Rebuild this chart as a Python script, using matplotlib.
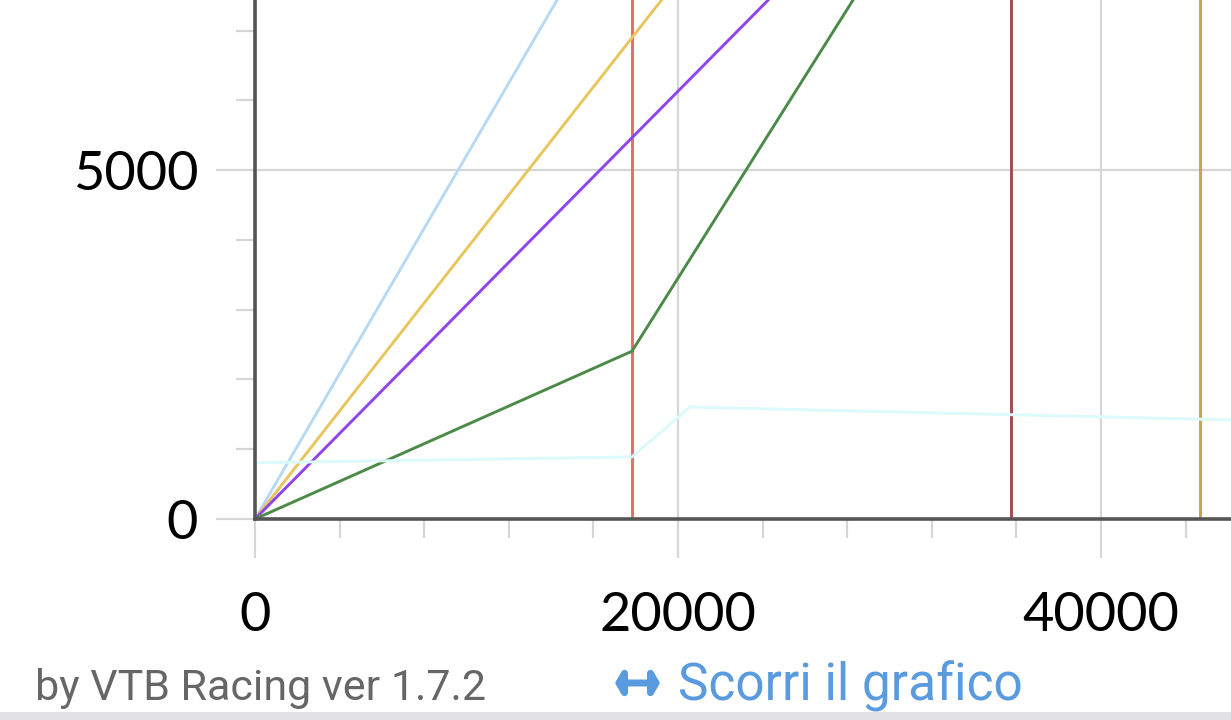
import matplotlib.pyplot as plt
from matplotlib.ticker import MultipleLocator
from matplotlib.patches import Rectangle, FancyArrowPatch

plt.rcParams["font.family"] = ["Lato", "DejaVu Sans"]

# visible window of the chart
X_MAX = 46150
Y_MAX = 7440

# series (x, y)
blue_x = [0, 14400]
blue_y = [0, 7500]
yellow_x = [0, 19300]
yellow_y = [0, 7470]
purple_x = [0, 24300]
purple_y = [0, 7450]
green_x = [0, 17825, 28300]
green_y = [0, 2405, 7450]
cyan_x = [0, 17825, 20570, 46150]
cyan_y = [805, 890, 1605, 1420]

# vertical markers
marker_x = [17825, 35745, 44680]
marker_colors = ["#e86b6b", "#a34a4f", "#c9a448"]

W, H, DPI = 1231, 720, 100
fig = plt.figure(figsize=(W / DPI, H / DPI), dpi=DPI)
fig.patch.set_facecolor("white")

left_px, bottom_px = 255, 519
ax = fig.add_axes([left_px / W, (H - bottom_px) / H, 1 - left_px / W, bottom_px / H])
ax.set_xlim(0, X_MAX)
ax.set_ylim(0, Y_MAX)

grid_col = "#d6d6d6"
ax.xaxis.set_major_locator(MultipleLocator(20000))
ax.xaxis.set_minor_locator(MultipleLocator(4000))
ax.yaxis.set_major_locator(MultipleLocator(5000))
ax.yaxis.set_minor_locator(MultipleLocator(1000))
ax.grid(True, which="major", color=grid_col, linewidth=1.6, zorder=0)

ax.tick_params(which="major", length=28, width=1.6, color=grid_col,
               labelsize=39, pad=13)
ax.tick_params(which="minor", length=14, width=1.6, color=grid_col)
ax.tick_params(axis="x", which="major", pad=24)

for side in ["top", "right"]:
    ax.spines[side].set_visible(False)
for side in ["left", "bottom"]:
    ax.spines[side].set_color("#555555")
    ax.spines[side].set_linewidth(2.6)
    ax.spines[side].set_zorder(5)

lw = 2.1
for xv, c in zip(marker_x, marker_colors):
    ax.axvline(xv, color=c, linewidth=lw, zorder=2)

ax.plot(blue_x, blue_y, color="#b8d9f3", linewidth=lw, zorder=3)
ax.plot(yellow_x, yellow_y, color="#e8c65e", linewidth=lw, zorder=3)
ax.plot(purple_x, purple_y, color="#8f44ee", linewidth=lw, zorder=3)
ax.plot(green_x, green_y, color="#4c8a48", linewidth=lw, zorder=3)
ax.plot(cyan_x, cyan_y, color="#dcfafb", linewidth=lw, zorder=4)

# footer
link_col = "#5a9be0"
fig.text(35 / W, 1 - 700 / H, "by VTB Racing ver 1.7.2", color="#666666",
         fontsize=31, family="Roboto", ha="left", va="baseline")
fig.add_artist(FancyArrowPatch((615 / W, 1 - 683 / H), (660 / W, 1 - 683 / H),
                               transform=fig.transFigure,
                               arrowstyle="<|-|>,head_length=0.4,head_width=0.7",
                               mutation_scale=10, linewidth=5.0,
                               shrinkA=0, shrinkB=0, joinstyle="round",
                               capstyle="round", color=link_col))
fig.text(678 / W, 1 - 700 / H, "Scorri il grafico", color=link_col,
         fontsize=37, family="Roboto", ha="left", va="baseline")
fig.add_artist(Rectangle((0, 0), 1, 8 / H, transform=fig.transFigure,
                         facecolor="#e2e2e5", edgecolor="none"))

fig.savefig("out.png", dpi=DPI, facecolor="white")
